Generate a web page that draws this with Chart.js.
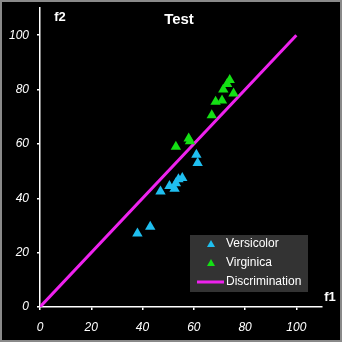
<!DOCTYPE html>
<html>
<head>
<meta charset="utf-8">
<script src="https://cdn.jsdelivr.net/npm/chart.js@4/dist/chart.umd.min.js"></script>
<style>
  html, body { margin: 0; padding: 0; background: #000; }
  #wrap { width: 342px; height: 342px; position: relative; }
</style>
</head>
<body>
<div id="wrap"><canvas id="c" width="342" height="342"></canvas></div>
<script>
const chartTitle = "Test";
const xAxisTitle = "f1";
const yAxisTitle = "f2";
const tickValues = [0, 20, 40, 60, 80, 100];
const seriesNames = ["Versicolor", "Virginica", "Discrimination"];
const versicolorX = [38, 43, 47, 50.5, 52.5, 53, 54, 55.5, 61, 61.5];
const versicolorY = [27, 29.5, 42.5, 44.5, 43.5, 45.5, 47, 47.5, 56, 53];
const virginicaX = [53, 58, 58.5, 67, 68.5, 71, 71.5, 73, 74, 75.5];
const virginicaY = [59, 62, 61, 70.5, 75.5, 76, 80, 82, 83.5, 78.5];
const discrimX = [0, 100];
const discrimY = [0, 100];

const colors = ['#1fbff0', '#14e014', '#ee22ee'];
const toPts = (xs, ys) => xs.map((x, i) => ({ x: x, y: ys[i] }));

const overlay = {
  id: 'overlay',
  beforeDraw(chart) {
    const ctx = chart.ctx;
    ctx.save();
    ctx.fillStyle = '#000';
    ctx.fillRect(0, 0, chart.width, chart.height);
    ctx.restore();
  },
  afterDraw(chart) {
    const ctx = chart.ctx;
    ctx.save();
    // border
    ctx.strokeStyle = '#8a8a8a';
    ctx.lineWidth = 2;
    ctx.strokeRect(1, 1, chart.width - 2, chart.height - 2);
    // title
    ctx.fillStyle = '#fff';
    ctx.font = 'bold 15px "Liberation Sans", Arial, sans-serif';
    ctx.textAlign = 'center';
    ctx.textBaseline = 'middle';
    ctx.fillText(chartTitle, 179, 20);
    // axis titles
    ctx.font = 'bold 13px "Liberation Sans", Arial, sans-serif';
    ctx.fillText(yAxisTitle, 60, 17);
    ctx.fillText(xAxisTitle, 330, 297);
    // legend
    const lx = 190, ly = 235, lw = 118, lh = 57;
    ctx.fillStyle = '#333333';
    ctx.fillRect(lx, ly, lw, lh);
    ctx.font = '12px "Liberation Sans", Arial, sans-serif';
    ctx.textAlign = 'left';
    const rows = [244, 263, 282];
    for (let i = 0; i < 3; i++) {
      const y = rows[i];
      if (i < 2) {
        ctx.fillStyle = colors[i];
        ctx.beginPath();
        ctx.moveTo(211, y - 4);
        ctx.lineTo(215, y + 3);
        ctx.lineTo(207, y + 3);
        ctx.closePath();
        ctx.fill();
      } else {
        ctx.strokeStyle = colors[i];
        ctx.lineWidth = 3;
        ctx.beginPath();
        ctx.moveTo(197, y);
        ctx.lineTo(224, y);
        ctx.stroke();
      }
      ctx.fillStyle = '#fff';
      ctx.fillText(chart.data.datasets[i].label, 226, y);
    }
    ctx.restore();
  }
};

const axisCommon = {
  type: 'linear',
  min: 0,
  max: 110,
  border: { display: true, color: '#fff', width: 1.5 },
  grid: { display: true, drawOnChartArea: false, drawTicks: true, tickLength: 3, color: '#fff', lineWidth: 1.5 },
  afterBuildTicks: (axis) => { axis.ticks = tickValues.map(v => ({ value: v })); },
};

new Chart(document.getElementById('c'), {
  data: {
    datasets: [
      { type: 'scatter', label: seriesNames[0], data: toPts(versicolorX, versicolorY),
        pointStyle: 'triangle', pointRadius: 6, backgroundColor: colors[0], borderWidth: 0 },
      { type: 'scatter', label: seriesNames[1], data: toPts(virginicaX, virginicaY),
        pointStyle: 'triangle', pointRadius: 6, backgroundColor: colors[1], borderWidth: 0 },
      { type: 'line', label: seriesNames[2], data: toPts(discrimX, discrimY),
        borderColor: colors[2], borderWidth: 3, pointRadius: 0, fill: false, order: 5 }
    ]
  },
  options: {
    responsive: false,
    animation: false,
    layout: { autoPadding: false, padding: { top: 8, right: 20, left: 0, bottom: 0 } },
    plugins: { legend: { display: false }, title: { display: false }, tooltip: { enabled: false } },
    scales: {
      x: Object.assign({}, axisCommon, {
        position: 'bottom',
        ticks: { color: '#fff', padding: 10, font: { family: '"Liberation Sans", Arial, sans-serif', size: 12, style: 'italic' }, maxRotation: 0 },
        afterFit: (s) => { s.height = 35; s.paddingLeft = 0; s.paddingRight = 0; }
      }),
      y: Object.assign({}, axisCommon, {
        position: 'left',
        ticks: { color: '#fff', padding: 8, font: { family: '"Liberation Sans", Arial, sans-serif', size: 12, style: 'italic' } },
        afterFit: (s) => { s.width = 40; s.paddingTop = 0; s.paddingBottom = 0; }
      })
    }
  },
  plugins: [overlay]
});
</script>
</body>
</html>
